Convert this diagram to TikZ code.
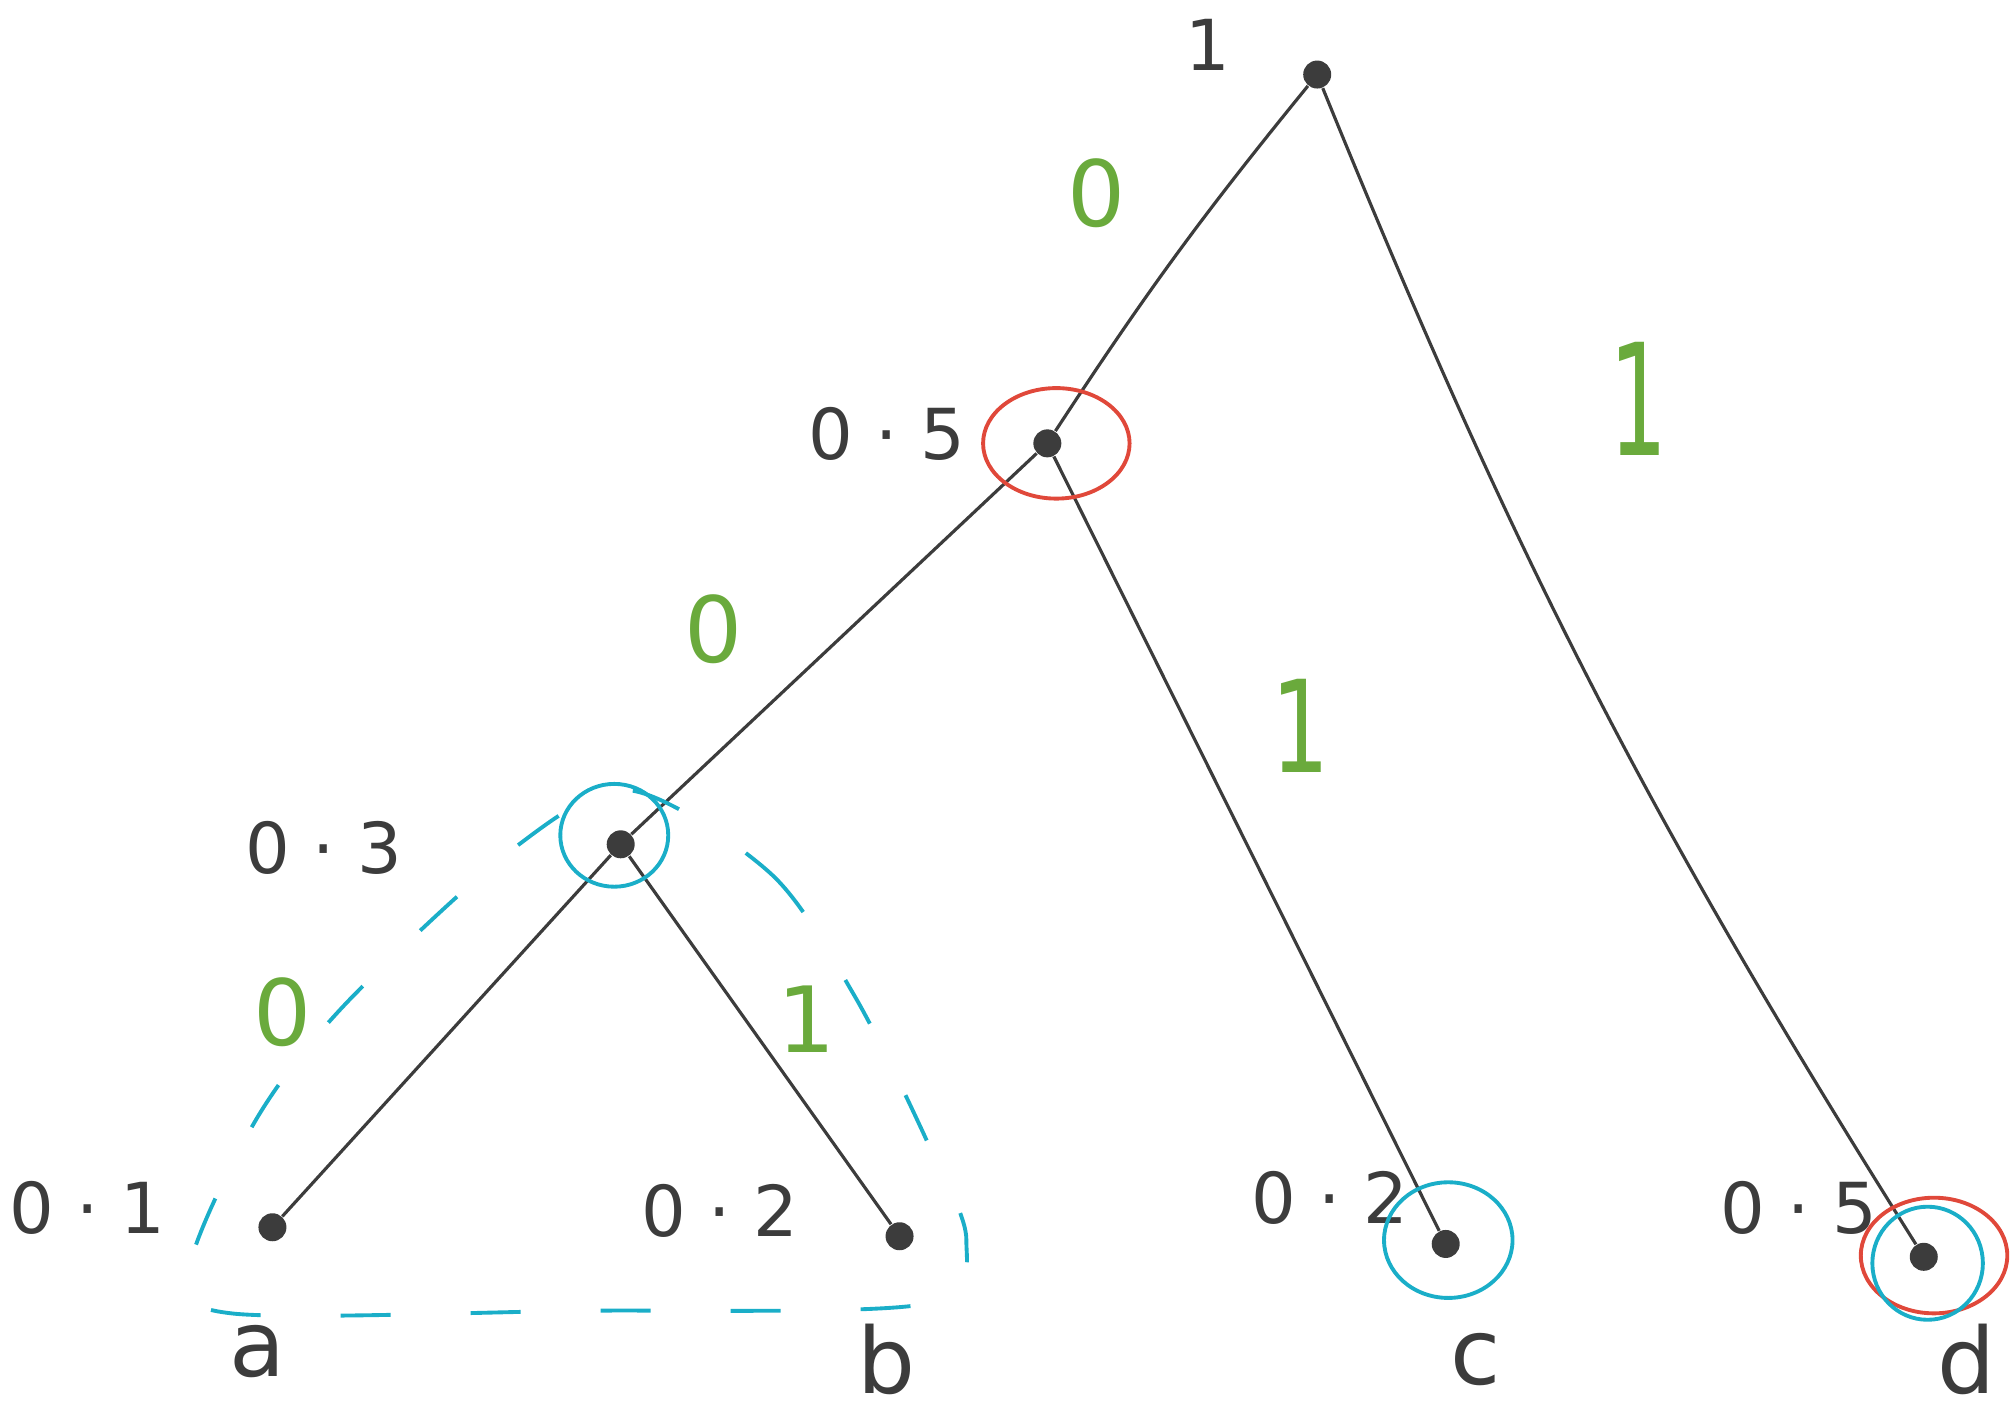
\documentclass[tikz,border=0pt]{standalone}
\usepackage{fontspec}
\setmainfont{DejaVu Sans}
\usepackage{xcolor}
\definecolor{inkgray}{HTML}{3C3C3C}
\definecolor{inkgreen}{HTML}{6AAA3C}
\definecolor{inkcyan}{HTML}{1AAEC8}
\definecolor{inkred}{HTML}{E0483A}
\tikzset{
  dot/.style={circle, fill=inkgray, inner sep=0pt, minimum size=2.8mm},
  edge/.style={inkgray, line width=0.9pt},
  weight/.style={inkgray, font=\fontsize{20}{24}\selectfont},
  bit/.style={inkgreen, font=\fontsize{26}{30}\selectfont},
  sym/.style={inkgray, font=\fontsize{26}{30}\selectfont},
  ring/.style={line width=1.1pt},
  hull/.style={inkcyan, line width=1.1pt, dash pattern=on 5mm off 8mm}
}
\begin{document}
\begin{tikzpicture}[x=0.12851mm, y=-0.12851mm]
  \useasboundingbox (0,0) rectangle (1568,1109);
  % Tree nodes
  \node[dot] (root) at (1025,58) {};
  \node[dot] (n05) at (815,345) {};
  \node[dot] (n03) at (483,657) {};
  \node[dot] (a) at (212,955) {};
  \node[dot] (b) at (700,962) {};
  \node[dot] (c) at (1125,968) {};
  \node[dot] (d) at (1497,978) {};
  % Branches
  \draw[edge] (root) to[bend right=3] (n05);
  \draw[edge] (root) to[bend right=5] (d);
  \draw[edge] (n05) -- (n03);
  \draw[edge] (n05) -- (c);
  \draw[edge] (n03) -- (a);
  \draw[edge] (n03) -- (b);
  % Weights
  \node[weight] (w1) at (940,35) {1};
  \node[weight] (w05) at (690,338) {0 · 5};
  \node[weight] (w03) at (252,660) {0 · 3};
  \node[weight] (w01) at (68,940) {0 · 1};
  \node[weight] (w02b) at (560,942) {0 · 2};
  \node[weight] (w02c) at (1035,932) {0 · 2};
  \node[weight] (w05d) at (1400,940) {0 · 5};
  % Symbols
  \node[sym] (la) at (200,1052) {a};
  \node[sym] (lb) at (690,1058) {b};
  \node[sym] (lc) at (1148,1058) {c};
  \node[sym] (ld) at (1530,1058) {d};
  % Branch bits
  \node[bit] (b1) at (853,150) {0};
  \node[bit] (b2) at (1275,310) {\scalebox{1}[1.7]{1}};
  \node[bit] (b3) at (555,490) {0};
  \node[bit] (b4) at (1012,565) {\scalebox{1}[1.4]{1}};
  \node[bit] (b5) at (220,788) {0};
  \node[bit] (b6) at (628,793) {1};
  % Red rings
  \draw[ring, inkred] (822,345) ellipse [x radius=57, y radius=43];
  \draw[ring, inkred] (1505,977) ellipse [x radius=57, y radius=45];
  % Cyan rings
  \draw[ring, inkcyan] (478,650) ellipse [x radius=42, y radius=40];
  \draw[ring, inkcyan] (1127,965) ellipse [x radius=50, y radius=45];
  \draw[ring, inkcyan] (1500,983) ellipse [x radius=43, y radius=44];
  % Merged pair
  \draw[hull] plot[smooth cycle] coordinates {(490,615) (600,680) (665,775)
    (720,885) (752,965) (718,1015) (450,1020) (180,1022) (148,985)
    (200,870) (270,780) (400,660)};
\end{tikzpicture}
\end{document}
